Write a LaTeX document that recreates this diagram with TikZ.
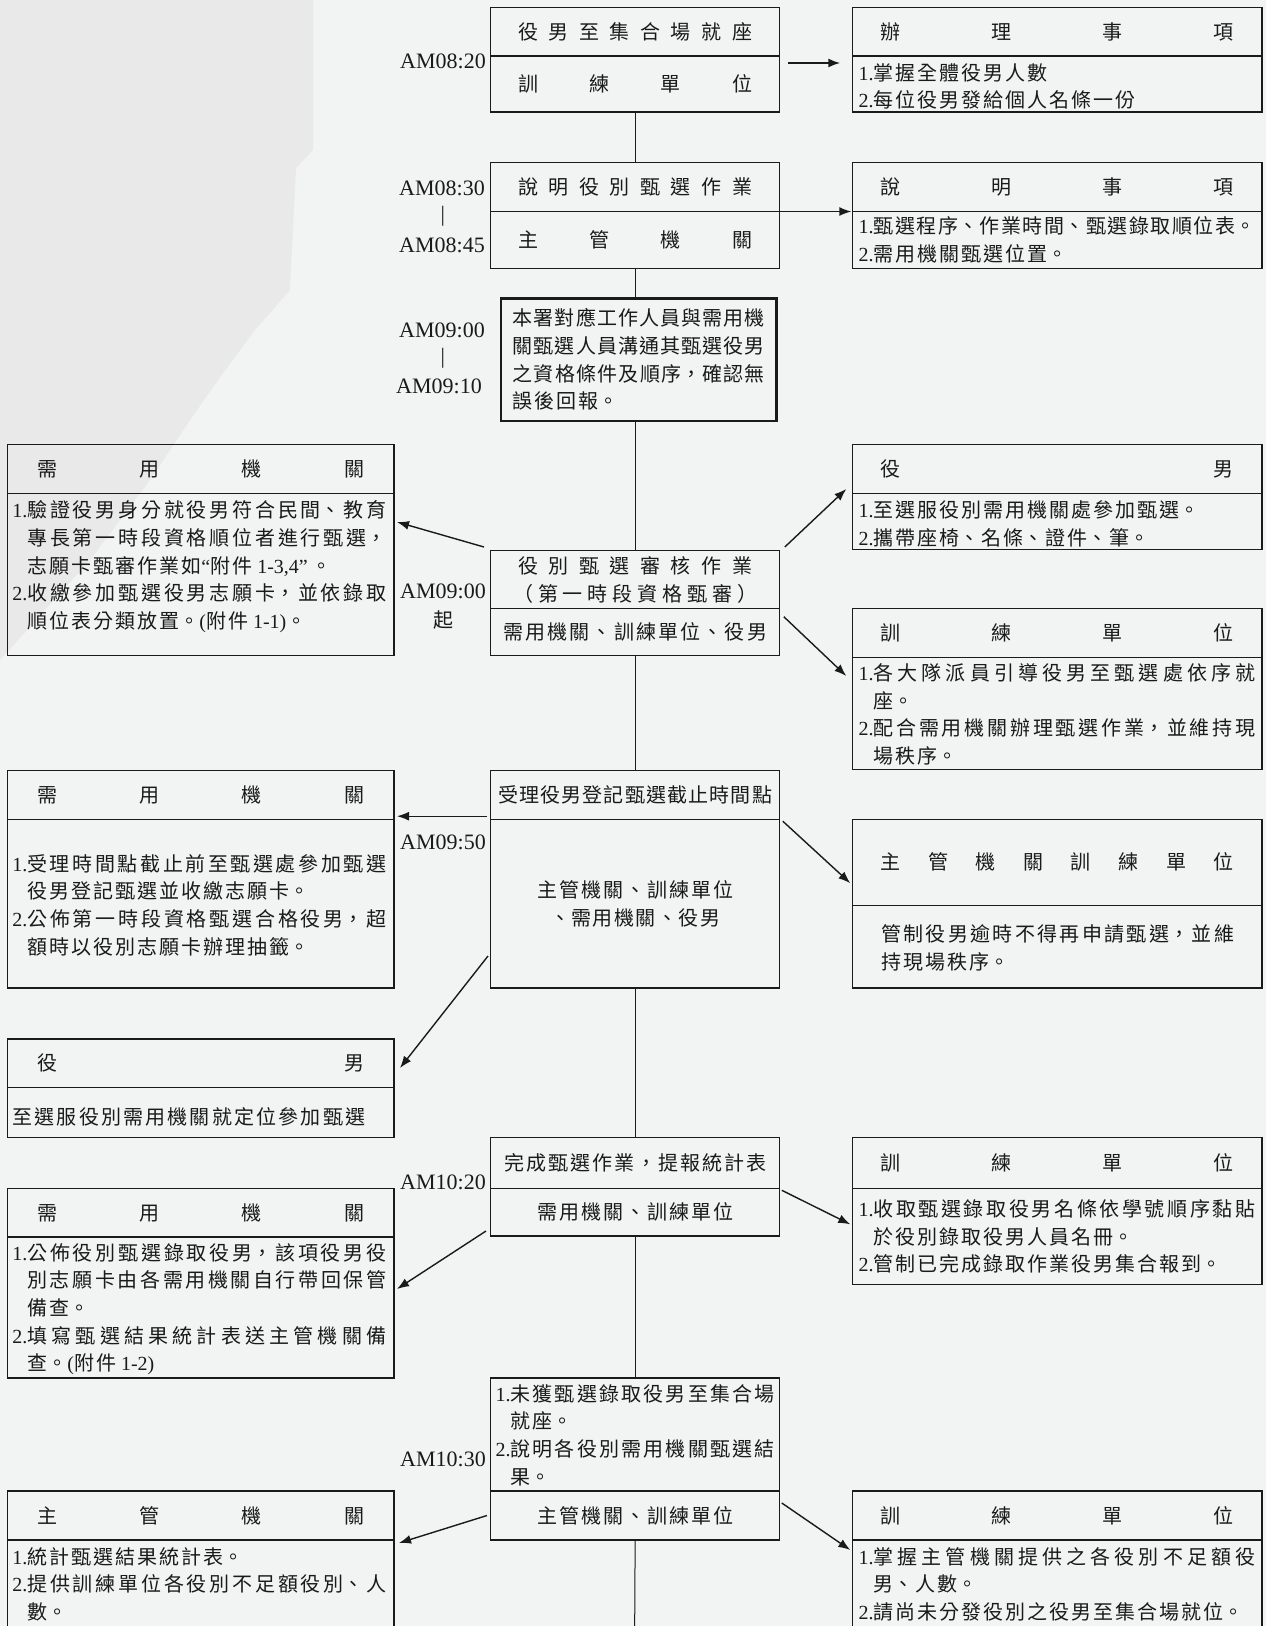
\documentclass[tikz,border=0pt]{standalone}
\usepackage{fontspec}
\setmainfont{Noto Sans CJK TC}
\newfontfamily\lat{Liberation Serif}
\usetikzlibrary{arrows.meta}
\XeTeXlinebreaklocale "zh"
\XeTeXlinebreakskip=2pt plus 3pt minus 1.5pt
\definecolor{ink}{HTML}{1A1A1A}
\definecolor{bgc}{HTML}{F2F3F3}
\definecolor{bgd}{HTML}{E9E9E9}
\def\spreadloop#1{\ifx#1\relax\else\hfill#1\expandafter\spreadloop\fi}
\def\spreadstart#1{#1\spreadloop}
\newcommand\spread[2]{\leavevmode\hbox to #1{\spreadstart#2\relax}}
\newcommand\itmf[1]{\hangindent=15pt\hangafter=1{\lat #1.}}
\newcommand\itm[1]{\par\hangindent=15pt\hangafter=1\noindent{\lat #1.}}
\tikzset{
  frame/.style={draw=ink, line width=1.3pt, inner sep=0pt, outer sep=0pt, anchor=north west, text=ink, font=\fontsize{20pt}{27.7pt}\selectfont},
  txt/.style={inner sep=0pt, outer sep=0pt, anchor=base west, text=ink, align=justify, font=\fontsize{20pt}{27.7pt}\selectfont},
  arr/.style={draw=ink, line width=1.4pt, -{Latex[length=12pt,width=9pt]}},
  vl/.style={draw=ink, line width=1pt},
  tm/.style={inner sep=0pt, text=ink, font=\fontsize{22pt}{24pt}\selectfont\lat},
  tmc/.style={inner sep=0pt, text=ink, font=\fontsize{20pt}{24pt}\selectfont},
}
\newcommand\Lbox[5]{\node[frame,minimum width=386.7pt,minimum height=#3pt,#4] (#1) at (7.3,#2) {#5};}
\newcommand\Cbox[5]{\node[frame,minimum width=289.3pt,minimum height=#3pt,#4] (#1) at (490.5,#2) {#5};}
\newcommand\Rbox[5]{\node[frame,minimum width=409.7pt,minimum height=#3pt,#4] (#1) at (852.3,#2) {#5};}
% body text placed by first baseline
\newcommand\Ltxt[3]{\node[txt,text width=374pt] (#1) at (12.4,#2) {#3\par};}
\newcommand\Rtxt[3]{\node[txt,text width=397pt] (#1) at (858.5,#2) {#3\par};}
\begin{document}
\begin{tikzpicture}[x=1pt,y=-1pt]
\useasboundingbox (0,0) rectangle (1266,1626);
\clip (0,0) rectangle (1266,1626);
\fill[bgc] (0,0) rectangle (1266,1626);
\fill[bgd] (0,0) -- (313,0) -- (313,150) -- (296,168) -- (290,290) -- (255,330) -- (218,380) -- (190,420) -- (150,480) -- (90,560) -- (0,660) -- cycle;

% row 1
\Cbox{C1h}{7.3}{48.7}{}{\spread{234pt}{役男至集合場就座}}
\Cbox{C1b}{56}{56}{}{\spread{234pt}{訓練單位}}
\Rbox{R1h}{7.3}{48.7}{}{\spread{353pt}{辦理事項}}
\Rbox{R1b}{56}{56}{}{}
\Rtxt{R1t}{80}{\itmf{1}掌握全體役男人數\itm{2}每位役男發給個人名條一份}

% row 2
\Cbox{C2h}{162.8}{48.7}{}{\spread{234pt}{說明役別甄選作業}}
\Cbox{C2b}{211.5}{57.1}{}{\spread{234pt}{主管機關}}
\Rbox{R2h}{162.8}{48.7}{}{\spread{353pt}{說明事項}}
\Rbox{R2b}{211.5}{57.1}{}{}
\Rtxt{R2t}{233.5}{\itmf{1}甄選程序、作業時間、甄選錄取順位表。\itm{2}需用機關甄選位置。}

% row 3
\node[frame, line width=2.6pt, minimum width=275.8pt, minimum height=122.4pt] (C3) at (500.8,298.6) {};
\node[txt, text width=252pt] (C3t) at (512.8,325.8) {本署對應工作人員與需用機\linebreak 關甄選人員溝通其甄選役男\linebreak 之資格條件及順序，確認無\linebreak 誤後回報。\par};

% row 4
\Lbox{LAh}{444.8}{48.8}{}{\spread{327pt}{需用機關}}
\Lbox{LAb}{493.6}{161.7}{}{}
\Ltxt{LAt}{517.7}{\itmf{1}驗證役男身分就役男符合民間、教育\linebreak 專長第一時段資格順位者進行甄選，\linebreak 志願卡甄審作業如{\lat “}附件{\lat\ 1-3,4”}\,。\itm{2}收繳參加甄選役男志願卡，並依錄取\linebreak 順位表分類放置。{\lat (}附件{\lat\ 1-1)}。}
\Cbox{C4h}{550.6}{58.1}{text width=289.3pt, align=center}{\spread{234pt}{役別甄選審核作業}\\\spread{244pt}{（第一時段資格甄審）}}
\Cbox{C4b}{608.7}{46.6}{}{\spread{264pt}{需用機關、訓練單位、役男}}
\Rbox{RBh}{444.8}{48.8}{}{\spread{353pt}{役男}}
\Rbox{RBb}{493.6}{56}{}{}
\Rtxt{RBt}{517.7}{\itmf{1}至選服役別需用機關處參加甄選。\itm{2}攜帶座椅、名條、證件、筆。}
\Rbox{RCh}{608.7}{48.7}{}{\spread{353pt}{訓練單位}}
\Rbox{RCb}{657.4}{112}{}{}
\Rtxt{RCt}{680.5}{\itmf{1}各大隊派員引導役男至甄選處依序就\linebreak 座。\itm{2}配合需用機關辦理甄選作業，並維持現\linebreak 場秩序。}

% row 5
\Cbox{C5h}{770.4}{48.8}{}{\spread{274pt}{受理役男登記甄選截止時間點}}
\Cbox{C5b}{819.2}{168.8}{text width=289.3pt, align=center}{\spread{196pt}{主管機關、訓練單位}\\\spread{170pt}{、需用機關、役男}}
\Lbox{LDh}{770.4}{48.8}{}{\spread{327pt}{需用機關}}
\Lbox{LDb}{819.2}{168.8}{}{}
\Ltxt{LDt}{871.2}{\itmf{1}受理時間點截止前至甄選處參加甄選\linebreak 役男登記甄選並收繳志願卡。\itm{2}公佈第一時段資格甄選合格役男，超\linebreak 額時以役別志願卡辦理抽籤。}
\Rbox{REh}{819.2}{86}{}{\spread{353pt}{主管機關訓練單位}}
\Rbox{REb}{905.2}{82.8}{}{}
\node[txt, text width=353pt] (REt) at (881,941.8) {管制役男逾時不得再申請甄選，並維\linebreak 持現場秩序。\par};

% row 6
\Lbox{LFh}{1039}{48.7}{}{\spread{327pt}{役男}}
\Lbox{LFb}{1087.7}{49.8}{}{}
\node[txt, text width=374pt, align=left] (LFt) at (12.4,1124.2) {\spread{353pt}{至選服役別需用機關就定位參加甄選}\par};
\Cbox{C6h}{1137.5}{50.8}{}{\spread{262pt}{完成甄選作業，提報統計表}}
\Cbox{C6b}{1188.3}{47.7}{}{\spread{196pt}{需用機關、訓練單位}}
\Rbox{RHh}{1137.5}{50.8}{}{\spread{353pt}{訓練單位}}
\Rbox{RHb}{1188.3}{96.5}{}{}
\Rtxt{RHt}{1216.5}{\itmf{1}收取甄選錄取役男名條依學號順序黏貼\linebreak 於役別錄取役男人員名冊。\itm{2}管制已完成錄取作業役男集合報到。}
\Lbox{LGh}{1188.3}{48.7}{}{\spread{327pt}{需用機關}}
\Lbox{LGb}{1237}{141}{}{}
\Ltxt{LGt}{1260}{\itmf{1}公佈役別甄選錄取役男，該項役男役\linebreak 別志願卡由各需用機關自行帶回保管\linebreak 備查。\itm{2}填寫甄選結果統計表送主管機關備\linebreak 查。{\lat (}附件{\lat\ 1-2)}}

% row 7
\Cbox{C7h}{1378}{113}{}{}
\node[txt, text width=279pt] (C7t) at (495.6,1401) {\itmf{1}未獲甄選錄取役男至集合場\linebreak 就座。\itm{2}說明各役別需用機關甄選結\linebreak 果。\par};
\Cbox{C7b}{1491}{49}{}{\spread{196pt}{主管機關、訓練單位}}
\Lbox{LIh}{1491}{49}{}{\spread{327pt}{主管機關}}
\Lbox{LIb}{1540}{90}{}{}
\Ltxt{LIt}{1564}{\itmf{1}統計甄選結果統計表。\itm{2}提供訓練單位各役別不足額役別、人\linebreak 數。}
\Rbox{RJh}{1491}{49}{}{\spread{353pt}{訓練單位}}
\Rbox{RJb}{1540}{90}{}{}
\Rtxt{RJt}{1564}{\itmf{1}掌握主管機關提供之各役別不足額役\linebreak 男、人數。\itm{2}請尚未分發役別之役男至集合場就位。}

\coordinate (bot) at (634.6,1640);

% time line
\draw[vl] (C1b.south) -- (C2h.north);
\draw[vl] (C2b.south) -- (C2b.south |- C3.north);
\draw[vl] (C3.south -| C2b.south) -- (C4h.north);
\draw[vl] (C4b.south) -- (C5h.north);
\draw[vl] (C5b.south) -- (C6h.north);
\draw[vl] (C6b.south) -- (C7h.north);
\draw[vl] (C7b.south) -- (bot);

% time labels
\node[tm] (t1) at (443,61) {AM08:20};
\node[tm] (t2) at (442,188) {AM08:30};
\node[tm] (s1) at (442.7,216.5) {|};
\node[tm] (t3) at (442,245) {AM08:45};
\node[tm] (t4) at (442,330) {AM09:00};
\node[tm] (s2) at (442.7,358) {|};
\node[tm] (t5) at (439,386) {AM09:10};
\node[tm] (t6) at (443,591) {AM09:00};
\node[tmc] (t7) at (443,620) {起};
\node[tm] (t8) at (443,842) {AM09:50};
\node[tm] (t9) at (443,1182) {AM10:20};
\node[tm] (t10) at (443,1459) {AM10:30};

% arrows
\draw[arr, line width=1.8pt] ([xshift=8pt,yshift=-7pt]C1b.north east) -- ([xshift=-12pt,yshift=-7pt]R1b.north west);
\draw[arr] (C2b.north east) -- ([xshift=-1pt]R2b.north west);
\draw[arr] ([xshift=-6.5pt,yshift=3.6pt]C4h.north west) -- ([xshift=3pt,yshift=-28.4pt]LAb.north east);
\draw[arr] ([xshift=5pt,yshift=3.6pt]C4h.north east) -- ([xshift=-6pt,yshift=4.6pt]RBh.south west);
\draw[arr] ([xshift=4pt,yshift=-8pt]C4b.north east) -- ([xshift=-6pt,yshift=-18.6pt]RCb.north west);
\draw[arr] ([xshift=-3.5pt,yshift=3pt]C5h.south west) -- ([xshift=3pt,yshift=3pt]LDh.south east);
\draw[arr] ([xshift=3pt,yshift=-2pt]C5b.north east) -- ([xshift=-2pt,yshift=-21pt]REh.west);
\draw[arr] ([xshift=-2.5pt,yshift=32pt]C5b.south west) -- ([xshift=6pt,yshift=-29pt]LFh.north east);
\draw[arr] ([xshift=2pt,yshift=-2pt]C6b.north east) -- ([xshift=-2pt,yshift=-36pt]RHb.north west);
\draw[arr] ([xshift=-4.5pt,yshift=5pt]C6b.south west) -- ([xshift=3pt,yshift=-52pt]LGb.north east);
\draw[arr] ([xshift=-3.5pt]C7b.west) -- ([xshift=5pt,yshift=-3pt]LIb.north east);
\draw[arr] ([xshift=2pt,yshift=-12pt]C7b.north east) -- ([xshift=-2pt,yshift=-10pt]RJb.north west);
\end{tikzpicture}
\end{document}
